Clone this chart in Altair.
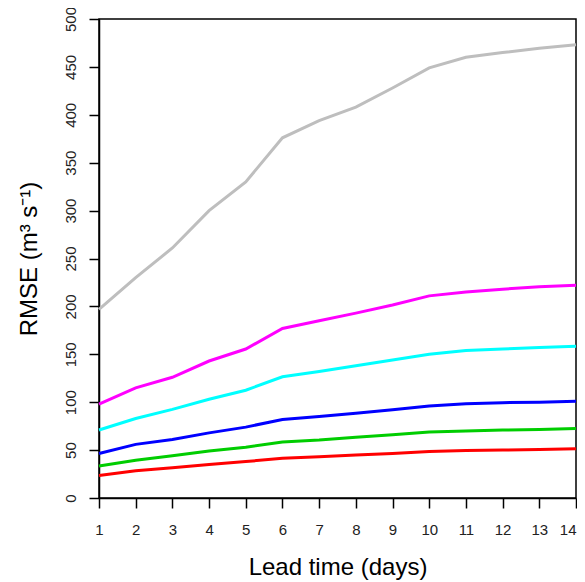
import altair as alt
import pandas as pd

days = list(range(1, 15))
series_names = ["grey", "magenta", "cyan", "blue", "green", "red"]
series_colors = ["#bebebe", "#ff00ff", "#00ffff", "#0000ff", "#00cd00", "#ff0000"]

grey = [197, 230, 261, 300, 330, 376, 394, 408, 428, 449, 460, 465, 469.5, 473]
magenta = [98, 115, 126, 143, 155.5, 177, 185, 193, 201.5, 211, 215, 218, 220.5, 222]
cyan = [71, 83, 92.5, 103, 112.5, 126.5, 132, 138, 144, 150, 154, 155.5, 157, 158.5]
blue = [46.5, 56, 61, 68, 74, 82, 85, 88.5, 92, 96, 98.5, 99.5, 100, 101]
green = [33.5, 39.5, 44, 49, 53, 58.5, 60.5, 63.5, 66, 69, 70, 71, 71.5, 72.5]
red = [23.5, 28.5, 31.5, 35, 38, 41.5, 43, 45, 46.5, 48.5, 49.5, 50, 50.5, 51.5]

y_ticks = [0, 50, 100, 150, 200, 250, 300, 350, 400, 450, 500]

values = [grey, magenta, cyan, blue, green, red]
rows = []
for name, vals in zip(series_names, values):
    for d, v in zip(days, vals):
        rows.append({"day": d, "rmse": v, "series": name})
df = pd.DataFrame(rows)

FONT = "Liberation Sans"

chart = alt.Chart(df).mark_line(strokeWidth=3).encode(
    x=alt.X(
        "day:Q",
        scale=alt.Scale(domain=[1, 14], nice=False, zero=False),
        axis=alt.Axis(
            values=days,
            title="Lead time (days)",
            labelFlush=False,
            labelAlign={"expr": "datum.value == 14 ? 'right' : 'center'"},
            labelPadding=14,
            titlePadding=18,
            grid=False,
        ),
    ),
    y=alt.Y(
        "rmse:Q",
        scale=alt.Scale(domain=[0, 500], nice=False),
        axis=alt.Axis(
            values=y_ticks,
            title="RMSE (m³ s⁻¹)",
            labelAngle=270,
            labelAlign="center",
            labelBaseline="bottom",
            labelPadding=11,
            titlePadding=22,
            grid=False,
        ),
    ),
    color=alt.Color(
        "series:N",
        scale=alt.Scale(domain=series_names, range=series_colors),
        legend=None,
    ),
    detail="series:N",
).properties(
    width=477,
    height=479,
    autosize=alt.AutoSizeParams(type="none"),
    padding={"left": 91, "top": 11, "right": 1, "bottom": 84},
).configure_view(
    stroke="#000000",
    strokeWidth=1.5,
).configure_axis(
    domainColor="#000000",
    domainWidth=1.5,
    tickColor="#000000",
    tickWidth=1.5,
    tickSize=10,
    labelFont=FONT,
    labelFontSize=15,
    labelColor="#222222",
    titleFont=FONT,
    titleFontSize=24,
    titleFontWeight="normal",
    titleColor="#000000",
)

chart.save("out.html", embed_options={"renderer": "svg", "actions": False})
